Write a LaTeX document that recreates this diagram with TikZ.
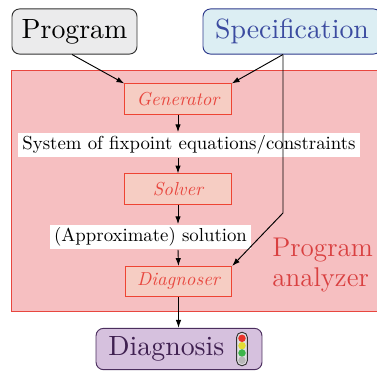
\documentclass[tikz,border=0pt]{standalone}
\usepackage{fontspec}
\newfontfamily\bigrm{lmroman10-regular.otf}
\usetikzlibrary{arrows.meta}
\definecolor{progfill}{HTML}{EBEBEC}
\definecolor{progdraw}{HTML}{333333}
\definecolor{specfill}{HTML}{DCEEF3}
\definecolor{specdraw}{HTML}{2E3A8C}
\definecolor{spectext}{HTML}{3B4BA0}
\definecolor{framefill}{HTML}{F6BFC1}
\definecolor{framedraw}{HTML}{E8463F}
\definecolor{boxfill}{HTML}{F6CDC3}
\definecolor{boxdraw}{HTML}{EE4433}
\definecolor{boxtext}{HTML}{E8473F}
\definecolor{antext}{HTML}{D94040}
\definecolor{diagfill}{HTML}{D6C1DE}
\definecolor{diagdraw}{HTML}{4B2E5E}
\definecolor{diagtext}{HTML}{3F2050}
\definecolor{tlred}{HTML}{E8332A}
\definecolor{tlyellow}{HTML}{E3DC35}
\definecolor{tlgreen}{HTML}{3DB54A}
\definecolor{tlgray}{HTML}{B8B8B8}
\definecolor{tlfill}{HTML}{E2E0E4}
\begin{document}
\begin{tikzpicture}[x=0.532pt,y=-0.532pt,
  bigbox/.style={rounded corners=4pt,line width=0.5pt,minimum height=24pt,inner sep=1pt,font=\fontsize{14.8}{18}\bigrm},
  stagebox/.style={draw=boxdraw,fill=boxfill,line width=0.5pt,text=boxtext,font=\itshape,minimum width=56.6pt,minimum height=16pt,inner sep=1pt},
  lbl/.style={fill=white,inner xsep=2.2pt,inner ysep=1.6pt},
  conn/.style={line width=0.5pt,-{Latex[length=4.2pt,width=2.9pt]}},
  antxt/.style={text=antext,font=\Large,inner sep=0pt,anchor=base west}]
\clip (0,0) rectangle (377,371);
% program analyzer frame
\path[fill=framefill,draw=framedraw,line width=0.5pt] (11.5,70) rectangle (400,311);
\node[antxt] (pa1) at (272,257) {Program};
\node[antxt] (pa2) at (272,286) {analyzer};
% top nodes
\node[bigbox,draw=progdraw,fill=progfill,minimum width=66.5pt] (prog) at (74.5,31.5) {Program};
\node[bigbox,draw=specdraw,fill=specfill,text=spectext,minimum width=94.7pt] (spec) at (292,31.5) {Specification};
% stages
\node[stagebox] (gen) at (178,99) {Generator};
\node[lbl] (sys) at (189,145) {System of fixpoint equations/constraints};
\node[stagebox] (sol) at (178,189) {Solver};
\node[lbl] (appr) at (150.5,237) {(Approximate) solution};
\node[stagebox] (dia) at (178.5,281.5) {Diagnoser};
% diagnosis
\node[bigbox,draw=diagdraw,fill=diagfill,text=diagtext,minimum width=88.3pt,minimum height=22pt,inner xsep=6.4pt,inner ysep=1pt] (diag) at (179,349) {Diagnosis\rule{13.4pt}{0pt}};
\node[draw=progdraw,fill=tlfill,line width=0.5pt,rounded corners=2.8pt,minimum width=5.8pt,minimum height=17.8pt,inner sep=0pt] (tl) at (242,349) {};
\fill[tlred] (242,338.3) circle (2.0pt);
\fill[tlyellow] (242,345.7) circle (2.0pt);
\fill[tlgreen] (242,353) circle (2.0pt);
\fill[tlgray] (242,360.3) circle (2.0pt);
% connectors
\coordinate (sp) at ([xshift=-4.8pt]spec.south);
\coordinate (bend) at (283,213);
\draw[conn] ([xshift=-1.3pt]prog.south) -- (gen.north west);
\draw[conn] (sp) -- (gen.north east);
\draw[conn] (sp) -- (bend) -- (dia.north east);
\draw[conn] (gen.south) -- (gen.south |- sys.north);
\draw[conn] (gen.south |- sys.south) -- (sol.north);
\draw[conn] (sol.south) -- (sol.south |- appr.north);
\draw[conn] (sol.south |- appr.south) -- (dia.north);
\draw[conn] (dia.south) -- (dia.south |- diag.north);
\end{tikzpicture}
\end{document}
